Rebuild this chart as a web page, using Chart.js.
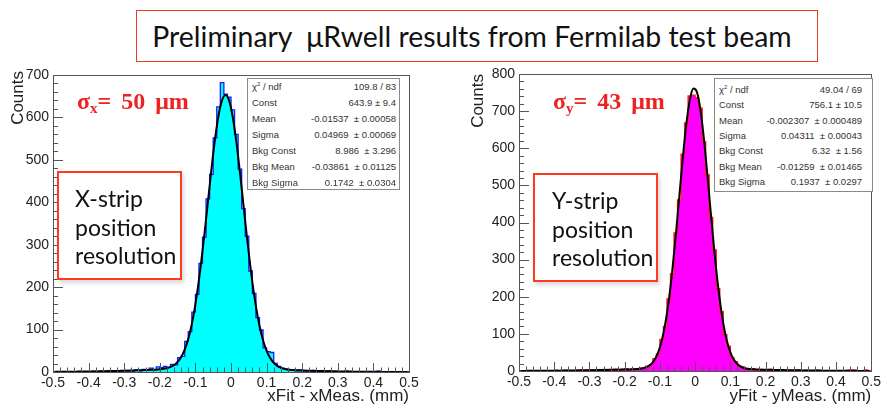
<!DOCTYPE html>
<html>
<head>
<meta charset="utf-8">
<script src="https://cdn.jsdelivr.net/npm/chart.js@4.4.1/dist/chart.umd.min.js"></script>
<style>
  body { margin: 0; background: #fff; width: 884px; height: 412px; overflow: hidden; position: relative; font-family: "Liberation Sans", Arial, sans-serif; }
  .plot { position: absolute; }
  .title { position: absolute; left: 136px; top: 10px; width: 682px; height: 52px; box-sizing: border-box; padding-right: 10px;
           border: 1.5px solid #f0381e; font-family: Lato, sans-serif; font-size: 28.4px; color: #111;
           text-align: center; line-height: 50px; white-space: pre; }
  .stats { position: absolute; background: #fff; border: 1px solid #8a8a8a; box-sizing: border-box; font-size: 9.5px; color: #333; }
  .stats .row { position: absolute; left: 4px; height: 16px; line-height: 16px; white-space: pre; }
  .stats .lab { position: absolute; left: 0; }
  .stats .val { position: absolute; right: 0; }
  .stats sup { font-size: 6px; vertical-align: 4px; line-height: 0; }
  .note { position: absolute; background: #fff; border: 2px solid #ff3b1f; box-sizing: border-box;
          box-shadow: 2px 3px 4px rgba(0,0,0,0.15); font-family: Lato, sans-serif; font-size: 23px; color: #111; line-height: 28.5px; }
  .sigma { position: absolute; font-family: "Liberation Serif", serif; font-weight: bold; font-size: 24px; word-spacing: 4px; color: #ee2222; white-space: pre; }
  .sigma sub { font-size: 15px; vertical-align: -4px; line-height: 0; }
</style>
</head>
<body>
<div class="title">Preliminary  μRwell results from Fermilab test beam</div>

<canvas id="xChart" class="plot" width="430" height="352" style="left:0px;top:60px"></canvas>
<canvas id="yChart" class="plot" width="424" height="352" style="left:460px;top:60px"></canvas>

<div class="sigma" style="left:77px;top:88px">σ<sub>x</sub>= 50 μm</div>
<div class="sigma" style="left:553px;top:88px">σ<sub>y</sub>= 43 μm</div>

<div class="note" style="left:57px;top:171px;width:125px;height:109px;padding:11px 0 0 16px">X-strip<br>position<br>resolution</div>
<div class="note" style="left:533px;top:173px;width:125px;height:109px;padding:11px 0 0 17px">Y-strip<br>position<br>resolution</div>

<div id="xStats" class="stats" style="left:247px;top:78px;width:153px;height:112px"></div>
<div id="yStats" class="stats" style="left:714px;top:78px;width:159px;height:114px"></div>

<script>
// Histogram binning (100 bins from -0.5 to 0.5 mm)
const binLow = -0.5;
const binWidth = 0.01;

// X-strip residual counts per bin
const xCounts = [
  0, 1, 0, 1, 0, 1, 0, 2, 1, 0,
  1, 2, 1, 2, 1, 3, 2, 1, 3, 2,
  4, 3, 2, 5, 3, 6, 4, 9, 5, 12,
  10, 13, 11, 18, 17, 34, 37, 72, 95, 141,
  183, 256, 318, 408, 466, 552, 625, 682, 655, 648,
  618, 560, 478, 385, 320, 238, 185, 128, 99, 57,
  48, 46, 20, 13, 9, 7, 5, 4, 3, 5,
  2, 3, 2, 4, 1, 2, 1, 3, 1, 2,
  1, 0, 2, 1, 0, 1, 0, 1, 0, 1,
  0, 2, 0, 1, 0, 1, 0, 1, 0, 1
];

// X-strip fit curve, read at bin centres
const xFit = [
  0.3, 0.35, 0.4, 0.45, 0.5, 0.6, 0.7, 0.8, 0.9, 1.0,
  1.1, 1.2, 1.4, 1.55, 1.7, 1.9, 2.1, 2.35, 2.55, 2.8,
  3.0, 3.3, 3.6, 3.9, 4.2, 4.5, 4.8, 5.1, 5.5, 6.0,
  6.8, 8.1, 10.2, 13.7, 19.6, 28.8, 43.2, 64.4, 94.3, 134.8,
  186.9, 249.9, 322.1, 399.8, 477.3, 548, 604.6, 640.9, 652.8, 638.9,
  600.5, 542.8, 471.4, 393.4, 315.8, 244, 181.6, 130.4, 90.6, 61.2,
  40.6, 26.6, 17.6, 12.0, 8.6, 6.6, 5.4, 4.6, 4.1, 3.6,
  3.35, 3.1, 2.85, 2.6, 2.4, 2.2, 2.0, 1.8, 1.6, 1.45,
  1.3, 1.15, 1.0, 0.9, 0.8, 0.7, 0.6, 0.55, 0.5, 0.42,
  0.37, 0.3, 0.27, 0.23, 0.2, 0.17, 0.14, 0.12, 0.1, 0.08
];

// Y-strip residual counts per bin
const yCounts = [
  1, 0, 1, 0, 0, 1, 0, 1, 0, 1,
  2, 0, 1, 2, 1, 1, 2, 3, 1, 2,
  3, 2, 1, 3, 4, 2, 3, 5, 3, 4,
  6, 3, 5, 4, 8, 7, 13, 17, 33, 46,
  85, 120, 194, 262, 372, 461, 584, 668, 741, 743,
  736, 708, 618, 528, 414, 326, 222, 160, 98, 67,
  36, 25, 13, 11, 6, 4, 6, 3, 4, 3,
  2, 4, 2, 3, 1, 3, 2, 1, 2, 3,
  1, 2, 1, 0, 2, 1, 0, 1, 0, 1,
  0, 1, 0, 2, 3, 2, 0, 1, 3, 1
];

// Y-strip fit curve, read at bin centres
const yFit = [
  0.28, 0.3, 0.35, 0.4, 0.46, 0.52, 0.6, 0.66, 0.74, 0.82,
  0.9, 1.0, 1.1, 1.2, 1.33, 1.45, 1.58, 1.7, 1.84, 1.98,
  2.15, 2.3, 2.5, 2.7, 2.9, 3.07, 3.27, 3.47, 3.66, 3.86,
  4.05, 4.35, 4.7, 5.2, 6.2, 8.2, 11.7, 18.5, 30.3, 49.9,
  80.8, 126.1, 188.5, 268.9, 364.6, 469.4, 573.5, 664.7, 730.3, 760.9,
  751.6, 703.9, 624.8, 526.1, 420.1, 318.4, 229.3, 157.1, 102.7, 64.5,
  39.3, 23.7, 14.6, 9.4, 6.7, 5.3, 4.5, 4.1, 3.7, 3.5,
  3.3, 3.1, 2.9, 2.7, 2.55, 2.35, 2.2, 2.05, 1.9, 1.75,
  1.6, 1.5, 1.37, 1.25, 1.14, 1.03, 0.94, 0.85, 0.77, 0.7,
  0.62, 0.56, 0.5, 0.45, 0.4, 0.35, 0.31, 0.27, 0.24, 0.21
];

// Tick labels
const xTicks = [-0.5, -0.4, -0.3, -0.2, -0.1, 0, 0.1, 0.2, 0.3, 0.4, 0.5];
const xCountTicks = [0, 100, 200, 300, 400, 500, 600, 700];
const yCountTicks = [0, 100, 200, 300, 400, 500, 600, 700, 800];

// Fit statistics boxes
const xStatLabels = ["χ<sup>2</sup> / ndf", "Const", "Mean", "Sigma", "Bkg Const", "Bkg Mean", "Bkg Sigma"];
const xStatValues = ["109.8 / 83", "643.9 ± 9.4", "-0.01537  ± 0.00058", "0.04969  ± 0.00069", "8.986  ± 3.296", "-0.03861  ± 0.01125", "0.1742  ± 0.0304"];
const yStatValues = ["49.04 / 69", "756.1 ± 10.5", "-0.002307  ± 0.000489", "0.04311  ± 0.00043", "6.32  ± 1.56", "-0.01259  ± 0.01465", "0.1937  ± 0.0297"];

function fillStats(id, values, top, step, right) {
  const box = document.getElementById(id);
  values.forEach((v, i) => {
    const row = document.createElement("div");
    row.className = "row";
    row.style.top = (top + i * step) + "px";
    row.style.right = right + "px";
    row.innerHTML = '<span class="lab">' + xStatLabels[i] + '</span><span class="val">' + v + '</span>';
    box.appendChild(row);
  });
}
fillStats("xStats", xStatValues, 0, 16, 3);
fillStats("yStats", yStatValues, 3, 15.3, 10);

// ROOT style frame: box, inward ticks, axis titles
const rootFrame = {
  id: "rootFrame",
  afterDatasetsDraw(chart, args, opts) {
    const { ctx, chartArea: a, scales: { x, y } } = chart;
    ctx.save();
    ctx.strokeStyle = "#555";
    ctx.lineWidth = 1;
    ctx.strokeRect(Math.round(a.left) + 0.5, Math.round(a.top) + 0.5, Math.round(a.right - a.left), Math.round(a.bottom - a.top));

    ctx.beginPath();
    for (let i = 0; i < xTicks.length; i++) {
      const px = Math.round(x.getPixelForValue(xTicks[i])) + 0.5;
      ctx.moveTo(px, a.bottom); ctx.lineTo(px, a.bottom - 9);
      if (i < xTicks.length - 1) {
        const d = (xTicks[i + 1] - xTicks[i]) / 5;
        for (let k = 1; k < 5; k++) {
          const mx = Math.round(x.getPixelForValue(xTicks[i] + k * d)) + 0.5;
          ctx.moveTo(mx, a.bottom); ctx.lineTo(mx, a.bottom - 4.5);
        }
      }
    }
    const yt = opts.yTicks;
    for (let i = 0; i < yt.length; i++) {
      const py = Math.round(y.getPixelForValue(yt[i])) + 0.5;
      ctx.moveTo(a.left, py); ctx.lineTo(a.left + 10, py);
      if (i < yt.length - 1) {
        const d = (yt[i + 1] - yt[i]) / 5;
        for (let k = 1; k < 5; k++) {
          const my = Math.round(y.getPixelForValue(yt[i] + k * d)) + 0.5;
          ctx.moveTo(a.left, my); ctx.lineTo(a.left + 5, my);
        }
      }
    }
    ctx.stroke();

    ctx.fillStyle = "#222";
    ctx.font = '17px "Liberation Sans", Arial, sans-serif';
    ctx.textAlign = "right";
    ctx.textBaseline = "alphabetic";
    ctx.fillText(opts.xTitle, a.right, opts.xTitleY);
    ctx.translate(opts.yTitleX, a.top + opts.yTitleShift);
    ctx.rotate(-Math.PI / 2);
    ctx.fillText("Counts", 0, 0);
    ctx.restore();
  }
};

function makeChart(id, counts, fit, yTicks, fillColor, lineColor, xTitle, pad) {
  // histogram outline: one point per bin low edge, plus the last upper edge
  const steps = counts.map((c, i) => ({ x: binLow + i * binWidth, y: c }));
  steps.push({ x: binLow + counts.length * binWidth, y: counts[counts.length - 1] });
  const curve = fit.map((v, i) => ({ x: binLow + (i + 0.5) * binWidth, y: v }));

  return new Chart(document.getElementById(id), {
    type: "line",
    data: {
      datasets: [
        { data: curve, borderColor: "#000", borderWidth: 2, pointRadius: 0, fill: false,
          cubicInterpolationMode: "monotone", order: 0 },
        { data: steps, stepped: "before", fill: "origin", backgroundColor: fillColor,
          borderColor: lineColor, borderWidth: 1.3, pointRadius: 0, order: 1 }
      ]
    },
    options: {
      responsive: false,
      animation: false,
      devicePixelRatio: 1,
      layout: { padding: { left: 0, top: pad.top, right: pad.right, bottom: 0 } },
      plugins: {
        legend: { display: false },
        tooltip: { enabled: false },
        rootFrame: { yTicks: yTicks, xTitle: xTitle, xTitleY: pad.xTitleY, yTitleX: pad.yTitleX, yTitleShift: pad.yTitleShift }
      },
      scales: {
        x: {
          type: "linear", min: -0.5, max: 0.5,
          afterBuildTicks: s => { s.ticks = xTicks.map(v => ({ value: v })); },
          afterFit: s => { s.height = pad.xHeight; },
          grid: { display: false, drawTicks: false },
          border: { display: false },
          ticks: { color: "#222", font: { size: 14, family: "Liberation Sans" }, padding: 3,
                   maxRotation: 0, autoSkip: false, callback: v => String(Math.round(v * 10) / 10) }
        },
        y: {
          min: 0, max: yTicks[yTicks.length - 1],
          afterBuildTicks: s => { s.ticks = yTicks.map(v => ({ value: v })); },
          afterFit: s => { s.width = pad.yWidth; },
          grid: { display: false, drawTicks: false },
          border: { display: false },
          ticks: { color: "#222", font: { size: 14, family: "Liberation Sans" }, padding: 4, autoSkip: false }
        }
      }
    },
    plugins: [rootFrame]
  });
}

makeChart("xChart", xCounts, xFit, xCountTicks, "#00ffff", "#1a1aff", "xFit - xMeas. (mm)",
  { top: 15, right: 21, xHeight: 40, yWidth: 53, xTitleY: 341, yTitleX: 23, yTitleShift: -4 });
makeChart("yChart", yCounts, yFit, yCountTicks, "#ff00ff", "#ff1a1a", "yFit - yMeas. (mm)",
  { top: 14, right: 9, xHeight: 41, yWidth: 59, xTitleY: 341, yTitleX: 23, yTitleShift: 0 });
</script>
</body>
</html>
